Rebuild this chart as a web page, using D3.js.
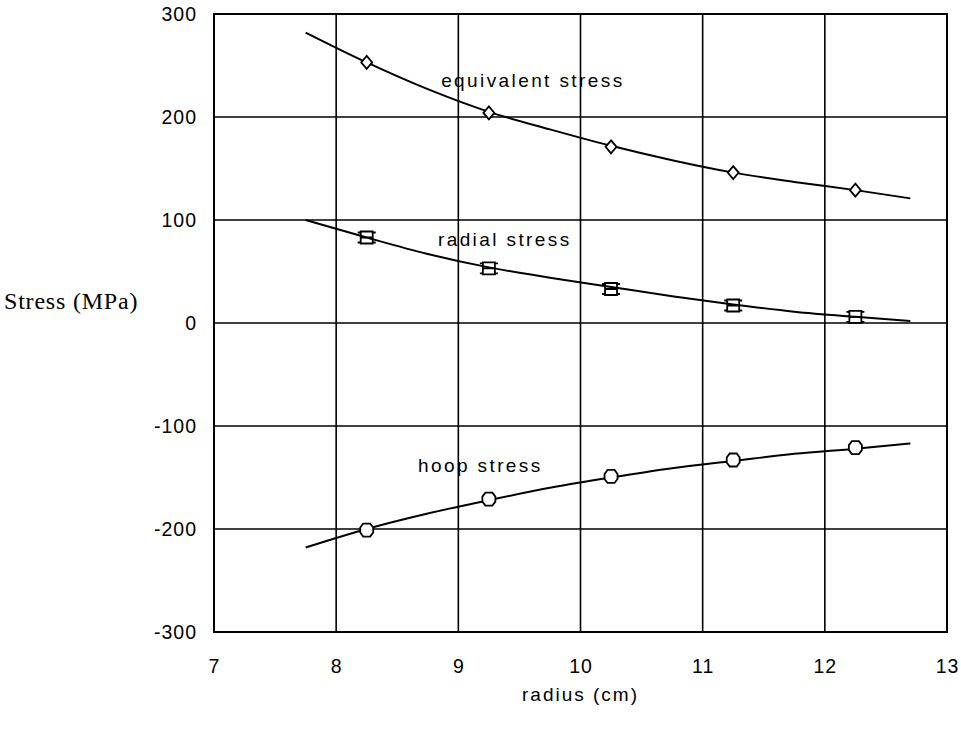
<html>
<head>
<meta charset="utf-8">
<title>stress vs radius</title>
<style>
    body { margin: 0; background: #fff; }
    .tick text { font-family: "Liberation Sans", Arial, sans-serif; font-size: 19.5px; fill: #000; }
    .lbl { font: 19px "Liberation Sans", Arial, sans-serif; letter-spacing: 2.4px; }
</style>
<script src="https://cdn.jsdelivr.net/npm/d3@7"></script>
</head>
<body>
<script>
    // curve points (radius cm) and stresses (MPa)
    var curveR = [7.75, 8.25, 8.75, 9.25, 9.75, 10.25, 10.75, 11.25, 11.75, 12.25, 12.7];
    var equivCurve = [282, 253, 227, 205, 188, 172, 158, 146, 137, 129, 121];
    var radialCurve = [100, 83, 67, 54, 44, 35, 26, 18, 11, 6, 2];
    var hoopCurve = [-218, -200, -185, -172, -160, -150, -141, -134, -127, -122, -117];

    // measured markers
    var markR = [8.25, 9.25, 10.25, 11.25, 12.25];
    var equivPts = [253, 204, 171, 146, 129];
    var radialPts = [83, 53, 33, 17, 6];
    var hoopPts = [-201, -171, -149, -133, -121];

    var xTicks = [7, 8, 9, 10, 11, 12, 13];
    var yTicks = [-300, -200, -100, 0, 100, 200, 300];

    var margin = { top: 14, left: 214, right: 14, bottom: 107 },
        W = 961, H = 739,
        width = W - margin.left - margin.right,
        height = H - margin.top - margin.bottom;

    var x = d3.scaleLinear().domain([7, 13]).range([0, width]);
    var y = d3.scaleLinear().domain([-300, 300]).range([height, 0]);

    var svg = d3.select("body").append("svg")
        .attr("width", W).attr("height", H);
    var g = svg.append("g")
        .attr("transform", "translate(" + margin.left + "," + margin.top + ")");

    // grid
    g.selectAll(".vg").data(xTicks).enter().append("line")
        .attr("x1", d => x(d)).attr("x2", d => x(d))
        .attr("y1", 0).attr("y2", height)
        .attr("stroke", "#000").attr("stroke-width", 1.6);
    g.selectAll(".hg").data(yTicks).enter().append("line")
        .attr("y1", d => y(d)).attr("y2", d => y(d))
        .attr("x1", 0).attr("x2", width)
        .attr("stroke", "#000").attr("stroke-width", 1.6);
    g.append("rect").attr("width", width).attr("height", height)
        .attr("fill", "none").attr("stroke", "#000").attr("stroke-width", 2);

    // axes (labels only)
    var fmt = d => String(d);
    var xAxis = g.append("g")
        .attr("transform", "translate(0," + height + ")")
        .call(d3.axisBottom(x).tickValues(xTicks).tickFormat(fmt).tickSize(0).tickPadding(27));
    var yAxis = g.append("g")
        .call(d3.axisLeft(y).tickValues(yTicks).tickFormat(fmt).tickSize(0).tickPadding(17));
    xAxis.select(".domain").remove();
    yAxis.select(".domain").remove();
    g.selectAll(".tick text").style("letter-spacing", "1px");

    var line = d3.line().x(d => x(d[0])).y(d => y(d[1])).curve(d3.curveMonotoneX);
    [equivCurve, radialCurve, hoopCurve].forEach(function(vals) {
        g.append("path")
            .datum(curveR.map((r, i) => [r, vals[i]]))
            .attr("d", line)
            .attr("fill", "none").attr("stroke", "#000").attr("stroke-width", 2);
    });

    // markers
    g.selectAll(".dia").data(markR.map((r, i) => [r, equivPts[i]])).enter().append("path")
        .attr("transform", d => "translate(" + x(d[0]) + "," + y(d[1]) + ")")
        .attr("d", "M0,-6.5L5.5,0L0,6.5L-5.5,0Z")
        .attr("fill", "#fff").attr("stroke", "#000").attr("stroke-width", 1.8);

    g.selectAll(".sq").data(markR.map((r, i) => [r, radialPts[i]])).enter().append("path")
        .attr("transform", d => "translate(" + x(d[0]) + "," + y(d[1]) + ")")
        .attr("d", "M-6,-6H6V6H-6Z M-9,-5H-6 M6,-5H9 M-9,5H-6 M6,5H9 M-6,0H6")
        .attr("fill", "none").attr("stroke", "#000").attr("stroke-width", 1.8);

    g.selectAll(".hex").data(markR.map((r, i) => [r, hoopPts[i]])).enter().append("path")
        .attr("transform", d => "translate(" + x(d[0]) + "," + y(d[1]) + ")")
        .attr("d", "M-3.5,-6.5H3.5L6.5,-2.5V2.5L3.5,6.5H-3.5L-6.5,2.5V-2.5Z")
        .attr("fill", "#fff").attr("stroke", "#000").attr("stroke-width", 1.8);

    // series labels
    var labels = [
        { t: "equivalent stress", r: 9.61, v: 229 },
        { t: "radial stress", r: 9.38, v: 75 },
        { t: "hoop stress", r: 9.18, v: -145 }
    ];
    g.selectAll(".lbl").data(labels).enter().append("text")
        .attr("class", "lbl")
        .attr("x", d => x(d.r)).attr("y", d => y(d.v))
        .attr("text-anchor", "middle")
        .text(d => d.t);

    // axis titles
    svg.append("text")
        .attr("x", margin.left + x(10)).attr("y", 701)
        .attr("text-anchor", "middle")
        .style("font", "19px 'Liberation Sans', Arial, sans-serif")
        .style("letter-spacing", "2px")
        .text("radius (cm)");
    svg.append("text")
        .attr("x", 4).attr("y", margin.top + y(0) - 14)
        .style("font", "24px 'Liberation Serif', 'Times New Roman', serif")
        .style("letter-spacing", "0.8px")
        .text("Stress (MPa)");
</script>
</body>
</html>
